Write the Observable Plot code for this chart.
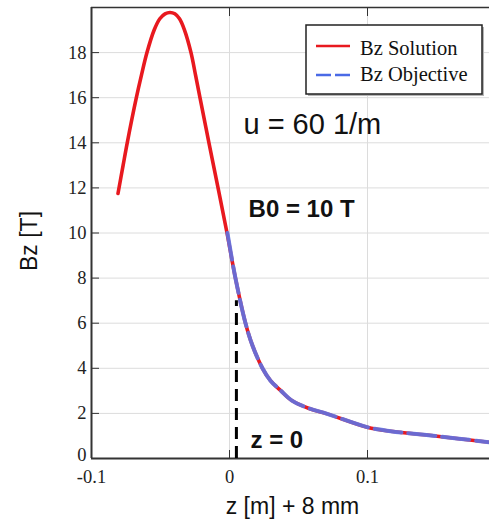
<!DOCTYPE html>
<html>
<head>
<meta charset="utf-8">
<script src="https://cdn.jsdelivr.net/npm/d3@7"></script>
<script src="https://cdn.jsdelivr.net/npm/@observablehq/plot@0.6"></script>
<style>
  html, body { margin: 0; padding: 0; background: #fff; }
  #chart { width: 489px; height: 519px; }
</style>
</head>
<body>
<div id="chart"></div>
<script>
// Bz Solution (red)
const zSolution = [-0.0808, -0.0771, -0.0741, -0.0675, -0.0638, -0.0598, -0.0546, -0.0505, -0.0467, -0.0431, -0.0396, -0.0362, -0.0326, -0.0279, -0.0246, -0.0214, -0.0149, -0.0083, -0.0018, 0.0043, 0.0116, 0.0167, 0.0239, 0.0297, 0.0370, 0.0452, 0.0572, 0.0708, 0.0998, 0.1167, 0.1505, 0.1884];
const bSolution = [11.75, 13.0, 14.0, 16.0, 17.0, 18.0, 19.0, 19.5, 19.72, 19.78, 19.72, 19.5, 19.0, 18.0, 17.0, 16.0, 14.0, 12.0, 10.0, 8.0, 6.0, 5.0, 4.0, 3.45, 3.02, 2.57, 2.23, 1.98, 1.39, 1.21, 0.99, 0.72];
// Bz Objective (blue dashed)
const zObjective = [-0.0015, 0.0043, 0.0116, 0.0167, 0.0239, 0.0297, 0.0370, 0.0452, 0.0572, 0.0708, 0.0998, 0.1167, 0.1505, 0.1884];
const bObjective = [10.0, 8.0, 6.0, 5.0, 4.0, 3.45, 3.02, 2.57, 2.23, 1.98, 1.39, 1.21, 0.99, 0.72];
// z = 0 marker
const zMarker = 0.005;
const bMarkerTop = 7.0;
// tick labels
const yTicks = [0, 2, 4, 6, 8, 10, 12, 14, 16, 18];
const xTicks = [-0.1, 0, 0.1];
const xTickLabels = ["-0.1", "0", "0.1"];
const legendLabels = ["Bz Solution", "Bz Objective"];
// annotations (anchored in data units)
const annotText = ["u = 60 1/m", "B0 = 10 T", "z = 0"];
const annotZ = [0.0101, 0.0138, 0.0152];
const annotB = [14.8, 11.05, 0.82];

const solution = zSolution.map((z, i) => ({z, b: bSolution[i]}));
const objective = zObjective.map((z, i) => ({z, b: bObjective[i]}));
const annots = annotText.map((t, i) => ({t, z: annotZ[i], b: annotB[i]}));

const serif = "Liberation Serif, Times New Roman, serif";
const sans = "Liberation Sans, Arial, sans-serif";

const chart = Plot.plot({
  width: 489,
  height: 519,
  marginLeft: 91,
  marginRight: 0,
  marginTop: 7,
  marginBottom: 61,
  x: {domain: [-0.1, 0.1884]},
  y: {domain: [0, 20]},
  style: {background: "#fff", overflow: "visible"},
  marks: [
    Plot.gridY(yTicks.filter(d => d > 0), {stroke: "#dcdcdc", strokeOpacity: 1, strokeWidth: 1}),
    Plot.gridX([0, 0.1], {stroke: "#dcdcdc", strokeOpacity: 1, strokeWidth: 1}),
    // axis frame lines
    Plot.ruleY([0], {stroke: "#333", strokeWidth: 2}),
    Plot.ruleY([20], {stroke: "#333", strokeWidth: 1.5}),
    Plot.ruleX([-0.1], {stroke: "#333", strokeWidth: 2}),
    // inward ticks
    Plot.axisY(yTicks, {anchor: "left", tickSize: -8, text: null, label: null, stroke: "#333"}),
    Plot.axisX(xTicks, {anchor: "bottom", tickSize: -8, text: null, label: null, stroke: "#333"}),
    Plot.axisX(xTicks, {anchor: "top", tickSize: -8, text: null, label: null, stroke: "#333"}),
    // tick labels
    Plot.axisY(yTicks.filter(d => d > 0), {anchor: "left", tickSize: 0, tickPadding: 5, label: null, fontSize: 18.5, fontFamily: serif, fill: "#222"}),
    Plot.axisY([0], {anchor: "left", tickSize: 0, tickPadding: 5, label: null, dy: -3, fontSize: 18.5, fontFamily: serif, fill: "#222"}),
    Plot.axisX(xTicks, {anchor: "bottom", tickSize: 0, tickPadding: 11, label: null, fontSize: 18.5, fontFamily: serif, fill: "#222",
      tickFormat: d => xTickLabels[xTicks.indexOf(d)]}),
    // curves
    Plot.line(solution, {x: "z", y: "b", stroke: "#e8191f", strokeWidth: 3.6, curve: "catmull-rom", clip: true}),
    Plot.line(objective, {x: "z", y: "b", stroke: "#5a74e8", strokeOpacity: 0.88, strokeWidth: 4, strokeDasharray: "27,7", curve: "catmull-rom", clip: true}),
    // z = 0 dashed marker
    Plot.ruleX([zMarker], {y1: 0, y2: bMarkerTop, stroke: "#000", strokeWidth: 3, strokeDasharray: "12,7"}),
    // annotations
    Plot.text(annots.slice(0, 1), {x: "z", y: "b", text: "t", textAnchor: "start", lineAnchor: "middle", fontSize: 29, fontFamily: sans, fill: "#111"}),
    Plot.text(annots.slice(1), {x: "z", y: "b", text: "t", textAnchor: "start", lineAnchor: "middle", fontSize: 24, fontWeight: "bold", fontFamily: sans, fill: "#111"}),
    // axis titles
    Plot.text(["z [m] + 8 mm"], {frameAnchor: "bottom", dx: 2, dy: 48, fontSize: 23, fontFamily: sans, fill: "#111", lineAnchor: "middle"}),
    Plot.text(["Bz [T]"], {frameAnchor: "left", dx: -62, dy: 38, rotate: -90, fontSize: 23, fontFamily: sans, fill: "#111", lineAnchor: "middle"})
  ]
});

// Legend box drawn on top
const svg = d3.select(chart);
const lg = svg.append("g").attr("class", "legend").attr("text-anchor", "start");
lg.append("rect").attr("x", 308).attr("y", 27).attr("width", 176).attr("height", 69).attr("fill", "#b5b5b5");
lg.append("rect").attr("x", 306).attr("y", 25).attr("width", 176).attr("height", 69).attr("fill", "#fff").attr("stroke", "#222").attr("stroke-width", 1.5);
lg.append("line").attr("x1", 316).attr("x2", 350).attr("y1", 46).attr("y2", 46).attr("stroke", "#e8191f").attr("stroke-width", 2.5);
lg.append("line").attr("x1", 316).attr("x2", 350).attr("y1", 75).attr("y2", 75).attr("stroke", "#4a6ae6").attr("stroke-width", 2.5).attr("stroke-dasharray", "15,4");
legendLabels.forEach((t, i) => {
  lg.append("text").attr("x", 360).attr("y", i === 0 ? 54.5 : 80.5)
    .attr("text-anchor", "start")
    .attr("font-family", serif).attr("font-size", 20.5).attr("fill", "#111").text(t);
});

document.getElementById("chart").appendChild(chart);
</script>
</body>
</html>
